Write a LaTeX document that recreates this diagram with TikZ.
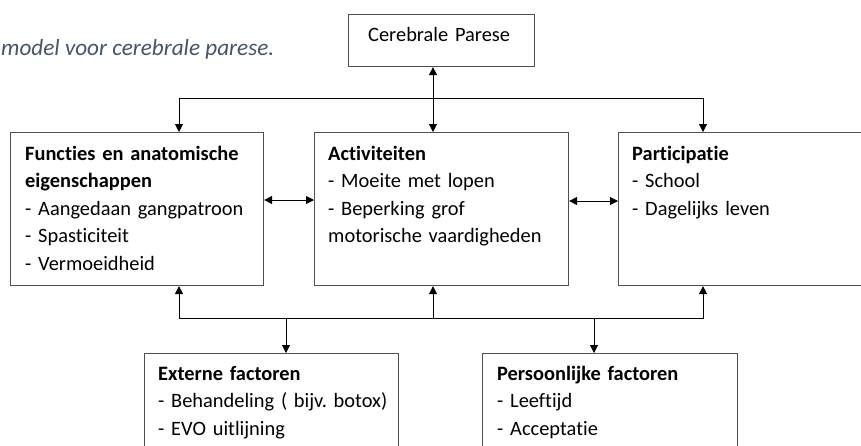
\documentclass[tikz,border=0pt]{standalone}
\usepackage{fontspec}
\setmainfont{Carlito}[Ligatures=NoCommon]
\usetikzlibrary{arrows.meta,calc}
\definecolor{capblue}{HTML}{44546A}
\definecolor{boxline}{HTML}{505050}
\tikzset{
  box/.style={draw=boxline, line width=1.1pt, rectangle, inner sep=0pt, anchor=north west},
  txt/.style={anchor=base west, inner sep=0pt, align=left, text width=260pt,
    font=\fontsize{20.4}{27.5}\selectfont\frenchspacing},
  conn/.style={draw=black, line width=0.9pt},
  tip/.style={-{Triangle[length=8pt,width=8pt]}},
  tips/.style={{Triangle[length=8pt,width=8pt]}-{Triangle[length=8pt,width=8pt]}}
}
\begin{document}
\begin{tikzpicture}[x=1pt,y=-1pt]
\useasboundingbox (0,0) rectangle (861,445);
\clip (0,0) rectangle (861,445);

% caption
\node[anchor=base west, inner sep=0pt, text=capblue, font=\fontsize{23.2}{28}\selectfont\itshape\frenchspacing] (cap) at (1,55) {model voor cerebrale parese.};

% boxes
\node[box, minimum width=186pt, minimum height=52pt] (cp) at (348,14) {};
\node[box, minimum width=253pt, minimum height=153pt] (fun) at (10,132) {};
\node[box, minimum width=254pt, minimum height=153pt] (act) at (314,132) {};
\node[box, minimum width=280pt, minimum height=153pt] (par) at (618,132) {};
\node[box, minimum width=254pt, minimum height=140pt] (ext) at (144,353) {};
\node[box, minimum width=255pt, minimum height=140pt] (per) at (482,353) {};

% texts
\node[txt] (cpt) at (368,41) {Cerebrale Parese};
\node[txt] (funt) at (25,160) {\textbf{Functies en anatomische}\\\textbf{eigenschappen}\\- Aangedaan gangpatroon\\- Spasticiteit\\- Vermoeidheid};
\node[txt] (actt) at (328,160) {\textbf{Activiteiten}\\- Moeite met lopen\\- Beperking grof\\motorische vaardigheden};
\node[txt] (part) at (632,160) {\textbf{Participatie}\\- School\\- Dagelijks leven};
\node[txt] (extt) at (158,380) {\textbf{Externe factoren}\\- Behandeling ( bijv. botox)\\- EVO uitlijning};
\node[txt] (pert) at (497,380) {\textbf{Persoonlijke factoren}\\- Leeftijd\\- Acceptatie};

% port x positions
\coordinate (xL) at (179,0);
\coordinate (xM) at (433,0);
\coordinate (xR) at (703,0);
\coordinate (xE) at (286,0);
\coordinate (xP) at (594,0);
\coordinate (jt) at (433,98);
\coordinate (jb) at (433,318);

% top connectors
\draw[conn,tips] (cp.south -| xM) -- (act.north -| xM);
\draw[conn,tip] (jt) -| (fun.north -| xL);
\draw[conn,tip] (jt) -| (par.north -| xR);

% side connectors
\draw[conn,tips] (fun.east |- 0,200) -- (act.west |- 0,200);
\draw[conn,tips] (act.east |- 0,201) -- (par.west |- 0,201);

% bottom connectors
\draw[conn,tip] (jb) -| (fun.south -| xL);
\draw[conn,tip] (jb) -| (par.south -| xR);
\draw[conn,tip] (jb) -- (act.south -| xM);
\draw[conn,tip] (jb -| xE) -- (ext.north -| xE);
\draw[conn,tip] (jb -| xP) -- (per.north -| xP);
\end{tikzpicture}
\end{document}
